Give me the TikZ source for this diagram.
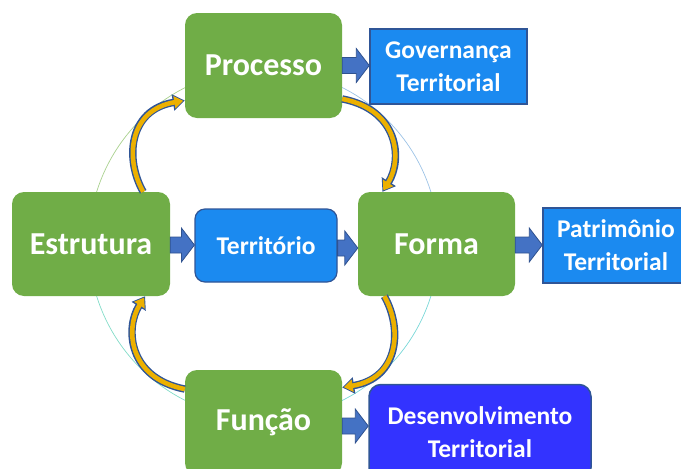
\documentclass[tikz,border=0pt]{standalone}
\usepackage{fontspec}
\setmainfont{Carlito}
\usetikzlibrary{arrows.meta,calc}
\definecolor{boxgreen}{RGB}{112,173,71}
\definecolor{skyblue}{RGB}{27,138,240}
\definecolor{boxborder}{RGB}{47,85,151}
\definecolor{deepblue}{RGB}{51,51,255}
\definecolor{arrfill}{RGB}{68,114,196}
\definecolor{arrborder}{RGB}{47,82,143}
\definecolor{goldfill}{RGB}{236,176,0}
\definecolor{ringgreen}{RGB}{169,209,142}
\definecolor{ringblue}{RGB}{157,195,230}
\definecolor{ringteal}{RGB}{130,220,200}
\definecolor{ringcyan}{RGB}{120,215,215}
\begin{document}
\begin{tikzpicture}[x=1pt,y=-1pt,
  greenbox/.style={fill=boxgreen, draw=none, rounded corners=12pt, text=white,
    font=\fontsize{32}{38}\selectfont\bfseries, minimum width=157pt, minimum height=105pt, inner sep=0pt},
  bluebox/.style={fill=skyblue, draw=boxborder, line width=1.5pt, text=white,
    font=\fontsize{25.5}{33}\selectfont\bfseries, align=center, inner sep=0pt},
  blockarr/.style={draw=arrborder, fill=arrfill, line width=0.8pt,
    to path={let \p1=(\tikztostart), \p2=(\tikztotarget) in
      (\x1,\y1+8pt) -- (\x2-13pt,\y1+8pt) -- (\x2-13pt,\y1+17pt) -- (\x2,\y1)
      -- (\x2-13pt,\y1-17pt) -- (\x2-13pt,\y1-8pt) -- (\x1,\y1-8pt) -- cycle}},
  curvarr/.style={draw=goldfill, line width=4.6pt, -{Triangle[length=9pt,width=12pt]}, shorten >=1.6pt,
    preaction={draw=boxborder, line width=7.4pt, -{Triangle[length=12pt,width=16pt]}, shorten >=0pt}},
  ring/.style={line width=0.7pt}
]
\useasboundingbox (0,0) rectangle (681,469);
% background ring
\draw[ring, ringblue]  (263.75,244) ++(0:175pt)   arc[start angle=0,   end angle=90,  radius=175pt];
\draw[ring, ringgreen] (263.75,244) ++(90:175pt)  arc[start angle=90,  end angle=180, radius=175pt];
\draw[ring, ringteal]  (263.75,244) ++(180:175pt) arc[start angle=180, end angle=270, radius=175pt];
\draw[ring, ringcyan]  (263.75,244) ++(270:175pt) arc[start angle=270, end angle=360, radius=175pt];
% nodes
\node[greenbox] (proc)   at (263.5,65.5)  {Processo};
\node[greenbox, minimum width=158pt, minimum height=104pt] (estr) at (91,244) {Estrutura};
\node[greenbox, minimum height=104pt] (forma)  at (436.5,244) {Forma};
\node[greenbox] (funcao) at (263.5,422.5) {Função};
\node[bluebox, rounded corners=10pt, line width=1.2pt, minimum width=142pt, minimum height=73pt] (terr) at (266,245.5) {Território};
\node[bluebox, minimum width=157pt, minimum height=75pt] (gov) at (448.5,66.5) {Governança\\Territorial};
\node[bluebox, minimum width=146pt, minimum height=75pt] (patr) at (616,245.5) {Patrimônio\\Territorial};
\node[bluebox, fill=deepblue, rounded corners=12pt, minimum width=222pt, minimum height=95pt] (desen) at (480,432) {Desenvolvimento\\Territorial};
% block arrows
\draw[blockarr] (proc.east) to (gov.west);
\draw[blockarr] ($(estr.east)+(0,1)$) to (terr.west);
\draw[blockarr] ($(terr.east)+(0,2.5)$) to (forma.west);
\draw[blockarr] ($(forma.east)+(0,1)$) to (patr.west);
\draw[blockarr] ($(funcao.east)+(0,3.5)$) to (desen.west);
% curved cycle arrows
\draw[curvarr] (estr.45) .. controls (125,160) and (128,110) .. (proc.204);
\draw[curvarr] (proc.-23) .. controls (399.5,110) and (402.5,160) .. (forma.136);
\draw[curvarr] (forma.-135) .. controls (402.5,328) and (399.5,378) .. (funcao.24);
\draw[curvarr] (funcao.157) .. controls (128,378) and (125,328) .. (estr.-44);
\end{tikzpicture}
\end{document}
